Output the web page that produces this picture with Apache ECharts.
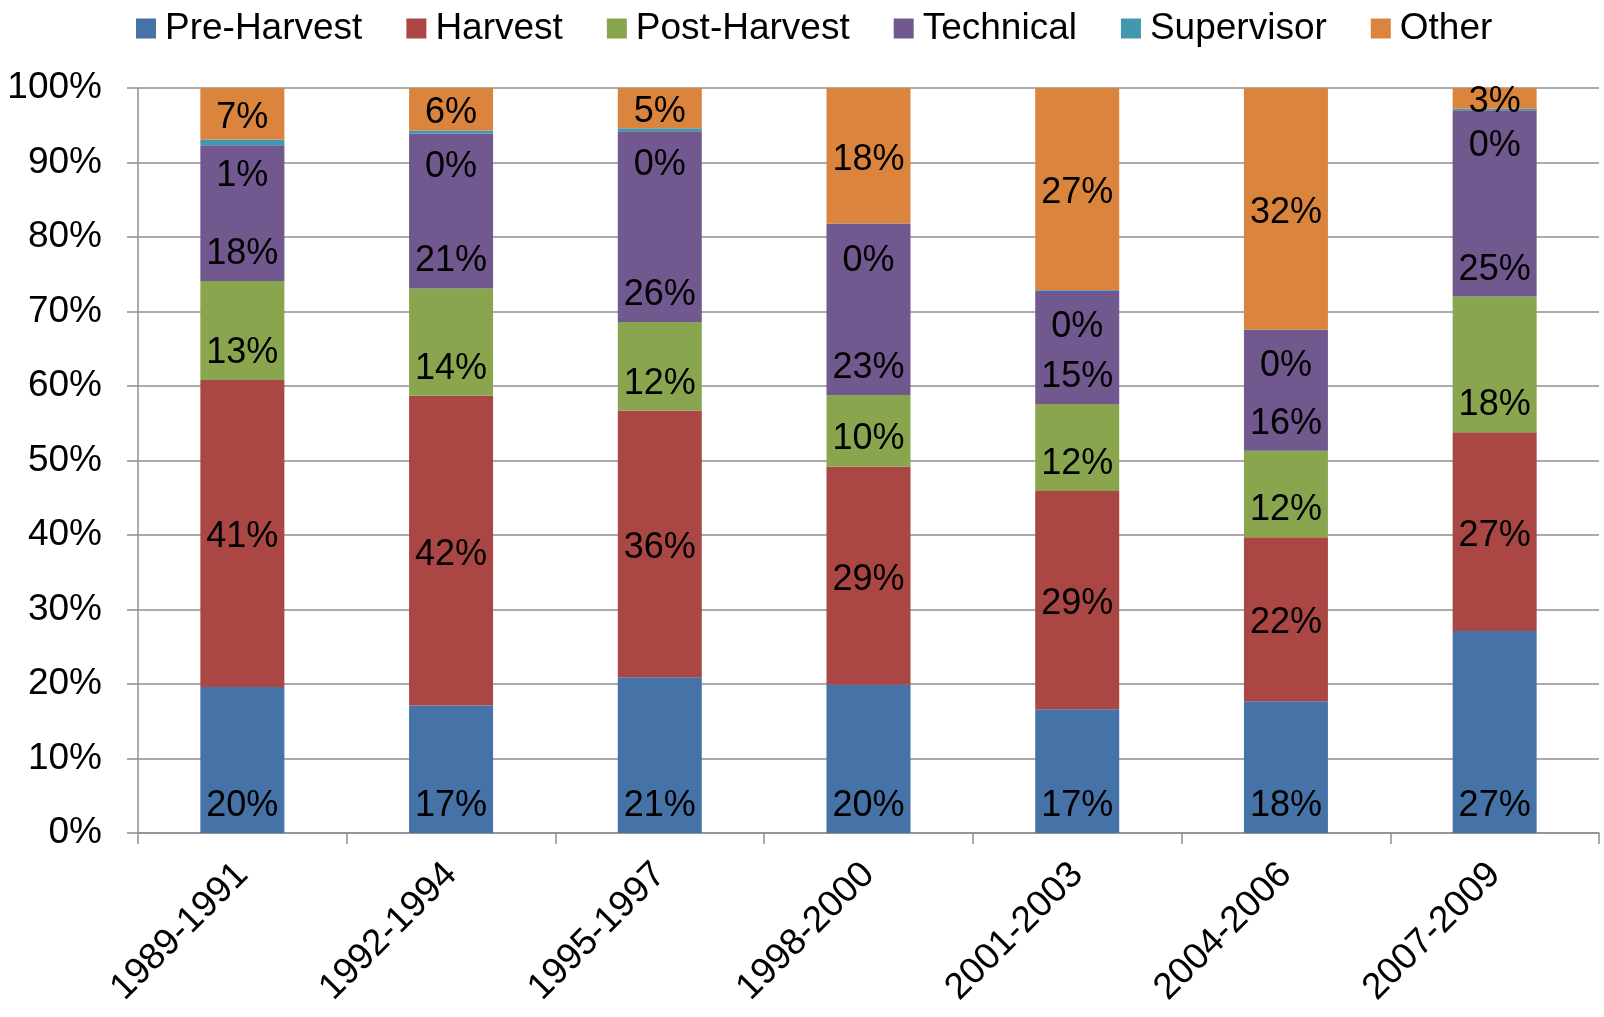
<!DOCTYPE html>
<html>
<head>
<meta charset="utf-8">
<script src="https://cdn.jsdelivr.net/npm/echarts@6/dist/echarts.min.js"></script>
<style>
  html, body { margin: 0; padding: 0; background: #fff; }
  #main { width: 1604px; height: 1017px; }
</style>
</head>
<body>
<div id="main"></div>
<script>
// periods on the x axis
var periods = ['1989-1991', '1992-1994', '1995-1997', '1998-2000', '2001-2003', '2004-2006', '2007-2009'];

// share of each group per period (%)
var preHarvest  = [19.6, 17.1, 20.9, 19.9, 16.6, 17.7, 27.1];
var harvest     = [41.2, 41.6, 35.8, 29.3, 29.3, 22.0, 26.7];
var postHarvest = [13.3, 14.4, 11.9,  9.6, 11.7, 11.6, 18.2];
var technical   = [18.2, 20.8, 25.6, 23.0, 15.2, 16.3, 25.0];
var supervisor  = [ 0.8,  0.4,  0.4,  0.0,  0.1,  0.0,  0.2];
var other       = [ 6.9,  5.7,  5.4, 18.2, 27.1, 32.4,  2.8];

var names = ['Pre-Harvest', 'Harvest', 'Post-Harvest', 'Technical', 'Supervisor', 'Other'];
var colors = ['#4572A7', '#AA4643', '#89A54E', '#71588F', '#4198AF', '#DB843D'];

var FONT = '"Liberation Sans", Arial, sans-serif';
var gridColor = '#8f8f8f';

var chart = echarts.init(document.getElementById('main'));

function mkSeries(name, data, pos, dist) {
    return {
        name: name,
        type: 'bar',
        stack: 'total',
        barWidth: 84,
        data: data,
        label: {
            show: true,
            position: pos,
            distance: dist,
            offset: [0, 4],
            color: '#000',
            fontSize: 36,
            fontFamily: FONT,
            formatter: function (p) {
                return Math.round(p.value) + '%';
            }
        }
    };
}

var option = {
    backgroundColor: '#fff',
    color: colors,
    animation: false,
    textStyle: { fontFamily: FONT },
    legend: {
        left: 131,
        top: 5,
        itemWidth: 20,
        itemHeight: 20,
        itemGap: 44,
        icon: 'rect',
        textStyle: { fontSize: 37, color: '#000', fontFamily: FONT, padding: [0, 0, 0, 4] },
        data: names
    },
    grid: {
        left: 138,
        right: 5,
        top: 88,
        bottom: 184,
        containLabel: false
    },
    xAxis: {
        type: 'category',
        data: periods,
        axisLine: { lineStyle: { color: gridColor, width: 1.5 } },
        axisTick: { show: true, length: 11, lineStyle: { color: gridColor, width: 1.5 } },
        axisLabel: {
            rotate: 45,
            margin: 36,
            padding: [34, 0, 0, 0],
            fontSize: 37,
            color: '#000',
            fontFamily: FONT
        }
    },
    yAxis: {
        type: 'value',
        min: 0,
        max: 100,
        interval: 10,
        axisLine: { show: true, lineStyle: { color: gridColor, width: 1.5 } },
        axisTick: { show: true, length: 11, lineStyle: { color: gridColor, width: 1.5 } },
        splitLine: { lineStyle: { color: gridColor, width: 1.5 } },
        axisLabel: {
            formatter: '{value}%',
            margin: 36,
            padding: [6, 0, 0, 0],
            fontSize: 37,
            color: '#000',
            fontFamily: FONT
        }
    },
    series: [
        mkSeries(names[0], preHarvest, 'insideBottom', 13),
        mkSeries(names[1], harvest, 'inside', 0),
        mkSeries(names[2], postHarvest, 'insideBottom', 13),
        mkSeries(names[3], technical, 'insideBottom', 13),
        mkSeries(names[4], supervisor, 'insideTop', 15),
        mkSeries(names[5], other, 'inside', 0)
    ]
};

chart.setOption(option);
</script>
</body>
</html>
